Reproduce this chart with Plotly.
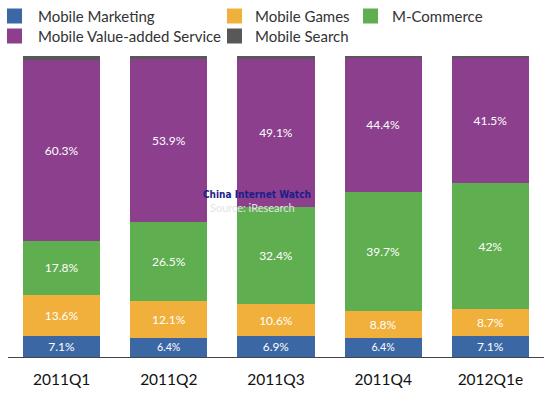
import plotly.graph_objects as go

quarters = ["2011Q1", "2011Q2", "2011Q3", "2011Q4", "2012Q1e"]
mobile_marketing = [7.1, 6.4, 6.9, 6.4, 7.1]
mobile_games = [13.6, 12.1, 10.6, 8.8, 8.7]
m_commerce = [17.8, 26.5, 32.4, 39.7, 42.0]
mobile_vas = [60.3, 53.9, 49.1, 44.4, 41.5]
mobile_search = [1.2, 1.1, 1.0, 0.7, 0.7]

series_names = ["Mobile Marketing", "Mobile Games", "M-Commerce",
                "Mobile Value-added Service", "Mobile Search"]
series_values = [mobile_marketing, mobile_games, m_commerce, mobile_vas, mobile_search]
series_colors = ["#3b67a5", "#f1b03c", "#5fae50", "#8b3f8d", "#585858"]
series_labels = [True, True, True, True, False]

W, H = 550, 396
ML, MR, MT, MB = 8, 6, 56, 39
PW, PH = W - ML - MR, H - MT - MB

def px(x):
    return (x - ML) / PW

def py(y):
    return (H - MB - y) / PH

def fmt(v):
    s = f"{v:.1f}"
    if s.endswith(".0"):
        s = s[:-2]
    return s + "%"

fig = go.Figure()
for name, vals, color, show_text in zip(series_names, series_values, series_colors, series_labels):
    fig.add_trace(go.Bar(
        x=quarters, y=vals, name=name, showlegend=False,
        marker=dict(color=color, line=dict(width=0)),
        text=[fmt(v) for v in vals] if show_text else None,
        textposition="inside" if show_text else "none",
        insidetextanchor="middle",
        textfont=dict(color="white", size=12, family="Lato"),
        hoverinfo="x+y+name",
    ))

# manual legend (3 columns x 2 rows, same order as the reference)
legend_slots = [(7, 36, 16), (227, 253, 16), (363, 390, 16), (7, 36, 36), (227, 253, 36)]
shapes = []
annotations = []
for (mx, tx, cy), name, color in zip(legend_slots, series_names, series_colors):
    shapes.append(dict(type="rect", xref="paper", yref="paper",
                       x0=px(mx), x1=px(mx + 15), y0=py(cy + 7.5), y1=py(cy - 7.5),
                       fillcolor=color, line=dict(width=0)))
    annotations.append(dict(text=name, xref="paper", yref="paper",
                            x=px(tx), y=py(cy), xanchor="left", yanchor="middle",
                            showarrow=False,
                            font=dict(size=15, family="Lato", color="#333333")))

annotations += [
    dict(text="<b>China Internet Watch</b>", xref="paper", yref="paper",
         x=px(257), y=py(194), showarrow=False,
         font=dict(size=10, family="DejaVu Sans Condensed", color="#1c1e8a")),
    dict(text="Source: iResearch", xref="paper", yref="paper",
         x=px(252), y=py(207), showarrow=False,
         font=dict(size=11, family="Lato", color="#e4e4e4")),
]

fig.update_layout(
    barmode="stack",
    bargap=0.28,
    width=W, height=H,
    margin=dict(l=ML, r=MR, t=MT, b=MB),
    plot_bgcolor="white", paper_bgcolor="white",
    font=dict(family="Lato", color="#222222"),
    showlegend=False,
    xaxis=dict(showline=True, linecolor="#444444", linewidth=1, ticks="",
               tickfont=dict(size=15.5, family="Lato", color="#111111"),
               ticklabelstandoff=8,
               showgrid=False, fixedrange=True, automargin=False),
    yaxis=dict(range=[0, 100], visible=False, showgrid=False, fixedrange=True,
               automargin=False),
    shapes=shapes,
    annotations=annotations,
)

fig.write_html("out.html", config={"displayModeBar": False},
               post_script="document.body.style.margin='0px';document.body.style.overflow='hidden';")
